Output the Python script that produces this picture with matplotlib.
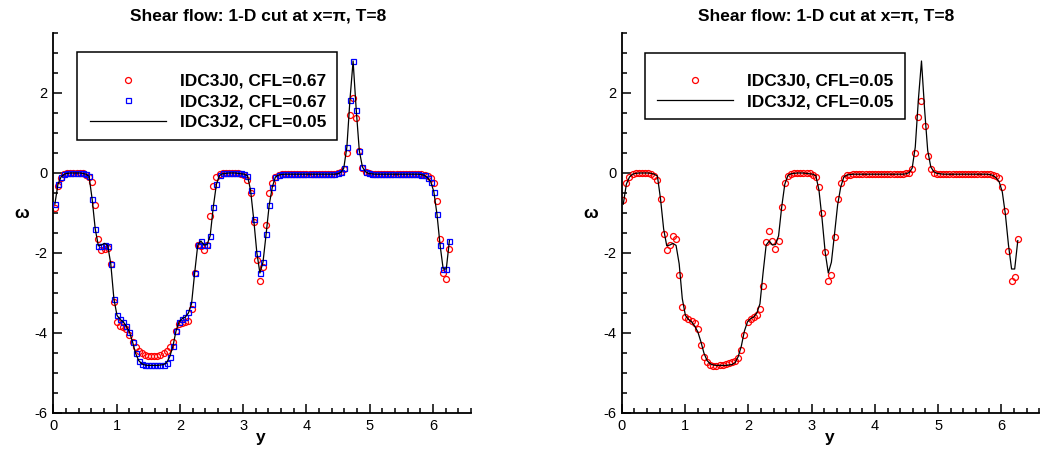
import matplotlib
matplotlib.use("Agg")
import matplotlib.pyplot as plt
import numpy as np
from matplotlib.ticker import FixedLocator
from matplotlib.patches import Rectangle

plt.rcParams['font.family'] = ['Liberation Sans', 'DejaVu Sans']
plt.rcParams['axes.unicode_minus'] = False

# 128 cell centres on [0, 2*pi]
N_CELLS = 128
y_cells = (np.arange(N_CELLS) + 0.5) * 2.0 * np.pi / N_CELLS

# vorticity along the cut, reference solution IDC3J2, CFL=0.05
w_idc3j2_005 = [
    -0.78, -0.28, -0.10, -0.03, -0.01, 0.00, 0.00, 0.00, 0.00, -0.01,
    -0.03, -0.08, -0.65, -1.40, -1.82, -1.80, -1.76, -1.81, -2.27, -3.14,
    -3.56, -3.66, -3.72, -3.83, -3.97, -4.22, -4.51, -4.69, -4.77, -4.80,
    -4.81, -4.81, -4.81, -4.81, -4.80, -4.79, -4.74, -4.59, -4.33, -3.95,
    -3.72, -3.64, -3.60, -3.50, -3.27, -2.50, -1.80, -1.70, -1.80, -1.79,
    -1.57, -0.85, -0.28, -0.06, -0.02, -0.01, 0.00, 0.00, 0.00, -0.01,
    -0.02, -0.03, -0.07, -0.43, -1.15, -1.98, -2.50, -2.23, -1.53, -0.80,
    -0.35, -0.10, -0.05, -0.04, -0.03, -0.03, -0.03, -0.03, -0.03, -0.03,
    -0.03, -0.03, -0.03, -0.03, -0.03, -0.03, -0.03, -0.03, -0.03, -0.03,
    -0.03, -0.02, 0.01, 0.12, 0.65, 1.84, 2.80, 1.59, 0.56, 0.15,
    0.03, -0.01, -0.02, -0.03, -0.03, -0.03, -0.03, -0.03, -0.03, -0.03,
    -0.03, -0.03, -0.03, -0.03, -0.03, -0.03, -0.03, -0.03, -0.04, -0.06,
    -0.12, -0.22, -0.47, -1.03, -1.80, -2.40, -2.40, -1.69,
]

# IDC3J2, CFL=0.67
w_idc3j2_067 = [
    -0.78, -0.28, -0.10, -0.02, 0.00, 0.01, 0.01, 0.01, 0.01, 0.00,
    -0.02, -0.07, -0.65, -1.40, -1.82, -1.82, -1.79, -1.82, -2.27, -3.14,
    -3.56, -3.66, -3.72, -3.83, -3.97, -4.22, -4.51, -4.69, -4.77, -4.80,
    -4.81, -4.81, -4.81, -4.81, -4.80, -4.79, -4.74, -4.59, -4.33, -3.95,
    -3.72, -3.64, -3.60, -3.48, -3.27, -2.50, -1.80, -1.69, -1.80, -1.80,
    -1.57, -0.85, -0.28, -0.05, -0.01, 0.01, 0.01, 0.01, 0.01, 0.00,
    -0.01, -0.03, -0.07, -0.43, -1.15, -1.99, -2.49, -2.23, -1.53, -0.80,
    -0.36, -0.11, -0.05, -0.03, -0.02, -0.02, -0.02, -0.02, -0.02, -0.02,
    -0.02, -0.02, -0.02, -0.02, -0.02, -0.02, -0.02, -0.02, -0.02, -0.02,
    -0.02, -0.01, 0.02, 0.12, 0.65, 1.83, 2.80, 1.58, 0.56, 0.15,
    0.03, -0.01, -0.02, -0.02, -0.02, -0.02, -0.02, -0.02, -0.02, -0.02,
    -0.02, -0.02, -0.02, -0.02, -0.02, -0.02, -0.02, -0.02, -0.04, -0.06,
    -0.12, -0.22, -0.47, -1.03, -1.80, -2.40, -2.40, -1.69,
]

# IDC3J0, CFL=0.67
w_idc3j0_067 = [
    -0.88, -0.33, -0.12, -0.03, 0.00, 0.01, 0.01, 0.01, 0.00, -0.01,
    -0.04, -0.10, -0.22, -0.80, -1.65, -1.93, -1.90, -1.87, -2.27, -3.22,
    -3.72, -3.83, -3.86, -3.89, -4.05, -4.22, -4.34, -4.44, -4.50, -4.54,
    -4.57, -4.58, -4.58, -4.57, -4.55, -4.51, -4.44, -4.35, -4.22, -3.95,
    -3.78, -3.76, -3.73, -3.70, -3.41, -2.50, -1.80, -1.82, -1.92, -1.79,
    -1.07, -0.32, -0.09, -0.02, 0.00, 0.00, 0.00, 0.00, 0.00, 0.00,
    -0.02, -0.05, -0.18, -0.49, -1.22, -2.17, -2.70, -2.36, -1.29, -0.49,
    -0.24, -0.10, -0.05, -0.03, -0.02, -0.02, -0.02, -0.02, -0.02, -0.02,
    -0.02, -0.02, -0.02, -0.02, -0.02, -0.02, -0.02, -0.02, -0.02, -0.02,
    -0.02, 0.00, 0.02, 0.10, 0.51, 1.44, 1.87, 1.38, 0.54, 0.12,
    0.02, -0.01, -0.02, -0.02, -0.02, -0.02, -0.02, -0.02, -0.02, -0.02,
    -0.02, -0.02, -0.02, -0.02, -0.02, -0.02, -0.02, -0.02, -0.02, -0.05,
    -0.08, -0.12, -0.26, -0.70, -1.65, -2.50, -2.64, -1.91,
]

# IDC3J0, CFL=0.05
w_idc3j0_005 = [
    -0.68, -0.24, -0.10, -0.03, 0.00, 0.00, 0.00, 0.00, -0.01, -0.02,
    -0.07, -0.18, -0.65, -1.53, -1.92, -1.80, -1.57, -1.65, -2.56, -3.35,
    -3.61, -3.66, -3.70, -3.75, -3.91, -4.30, -4.59, -4.72, -4.80, -4.83,
    -4.83, -4.81, -4.79, -4.77, -4.75, -4.73, -4.71, -4.63, -4.43, -4.05,
    -3.72, -3.64, -3.60, -3.56, -3.40, -2.83, -1.73, -1.46, -1.69, -1.90,
    -1.71, -0.86, -0.24, -0.07, -0.02, 0.00, 0.00, 0.00, 0.00, 0.00,
    -0.01, -0.04, -0.11, -0.35, -0.99, -1.98, -2.69, -2.55, -1.59, -0.65,
    -0.26, -0.12, -0.06, -0.04, -0.03, -0.03, -0.03, -0.03, -0.03, -0.03,
    -0.03, -0.03, -0.03, -0.03, -0.03, -0.03, -0.03, -0.03, -0.03, -0.03,
    -0.03, -0.01, 0.01, 0.11, 0.51, 1.39, 1.81, 1.17, 0.42, 0.09,
    0.00, -0.02, -0.03, -0.03, -0.03, -0.03, -0.03, -0.03, -0.03, -0.03,
    -0.03, -0.03, -0.03, -0.03, -0.03, -0.03, -0.03, -0.03, -0.03, -0.05,
    -0.07, -0.13, -0.34, -0.95, -1.94, -2.69, -2.59, -1.65,
]

title_text = "Shear flow: 1-D cut at x=\u03c0, T=8"
x_major = [0, 1, 2, 3, 4, 5, 6]
y_major = [-6, -4, -2, 0, 2]

FIG_W, FIG_H = 1042, 453
fig = plt.figure(figsize=(FIG_W / 100, FIG_H / 100), dpi=100)

AX_W_PX, AX_H_PX = 417.7, 380.0
AX_BOTTOM_PX = 413.0


def make_axes(left_px):
    ax = fig.add_axes([left_px / FIG_W, 1 - AX_BOTTOM_PX / FIG_H,
                       AX_W_PX / FIG_W, AX_H_PX / FIG_H])
    ax.set_xlim(0, 6.6)
    ax.set_ylim(-6, 3.5)
    for side in ("top", "right"):
        ax.spines[side].set_visible(False)
    for side in ("left", "bottom"):
        ax.spines[side].set_linewidth(1.3)
    ax.xaxis.set_major_locator(FixedLocator(x_major))
    ax.xaxis.set_minor_locator(FixedLocator(np.round(np.arange(0, 6.61, 0.2), 1)))
    ax.yaxis.set_major_locator(FixedLocator(y_major))
    ax.yaxis.set_minor_locator(FixedLocator(np.arange(-6, 3.51, 0.5)))
    ax.tick_params(which="both", direction="in", width=1.1, labelsize=10.5,
                   pad=4)
    ax.tick_params(which="major", length=6.5)
    ax.tick_params(which="minor", length=3.6)
    ax.set_xlabel("y", fontsize=12.5, fontweight="bold")
    ax.set_ylabel("\u03c9", fontsize=12.5, fontweight="bold", rotation=0,
                  ha="center", va="center")
    ax.xaxis.set_label_coords(0.497, -0.045)
    ax.yaxis.set_label_coords(-0.075, 0.524)
    ax.text(0.49, 1.032, title_text, transform=ax.transAxes, ha="center",
            va="baseline", fontsize=12.5, fontweight="bold")
    return ax


def legend_box(ax, x0, y0, w, h):
    ax.add_patch(Rectangle((x0, y0), w, h, transform=ax.transAxes,
                           fill=False, ec="black", lw=1.1, clip_on=False,
                           zorder=6))


circle_style = dict(ls="none", marker="o", ms=4.3, mfc="none", mec="red", mew=0.9)
square_style = dict(ls="none", marker="s", ms=3.6, mfc="none", mec="#0000ff", mew=0.9)
line_style = dict(color="black", lw=0.9)
legend_opts = dict(loc="upper left", borderaxespad=0, borderpad=0,
                   frameon=False, prop={"weight": "bold", "size": 12.5},
                   handlelength=4.4, handletextpad=0.8, labelspacing=0.3,
                   numpoints=1)

# left panel: CFL=0.67 runs against the CFL=0.05 reference
ax1 = make_axes(53.3)
h1, = ax1.plot(y_cells, w_idc3j0_067, zorder=2, **circle_style)
h2, = ax1.plot(y_cells, w_idc3j2_067, zorder=3, **square_style)
h3, = ax1.plot(y_cells, w_idc3j2_005, zorder=4, **line_style)
ax1.legend([h1, h2, h3],
           ["IDC3J0, CFL=0.67", "IDC3J2, CFL=0.67", "IDC3J2, CFL=0.05"],
           bbox_to_anchor=(0.0878, 0.8927), **legend_opts)
legend_box(ax1, 0.0575, 0.7184, 0.6225, 0.2308)

# right panel: both schemes at CFL=0.05
ax2 = make_axes(621.7)
g1, = ax2.plot(y_cells, w_idc3j0_005, zorder=2, **circle_style)
g2, = ax2.plot(y_cells, w_idc3j2_005, zorder=4, **line_style)
ax2.legend([g1, g2], ["IDC3J0, CFL=0.05", "IDC3J2, CFL=0.05"],
           bbox_to_anchor=(0.0844, 0.8927), **legend_opts)
legend_box(ax2, 0.0558, 0.7737, 0.6225, 0.1737)

fig.savefig("out.png", dpi=100)
